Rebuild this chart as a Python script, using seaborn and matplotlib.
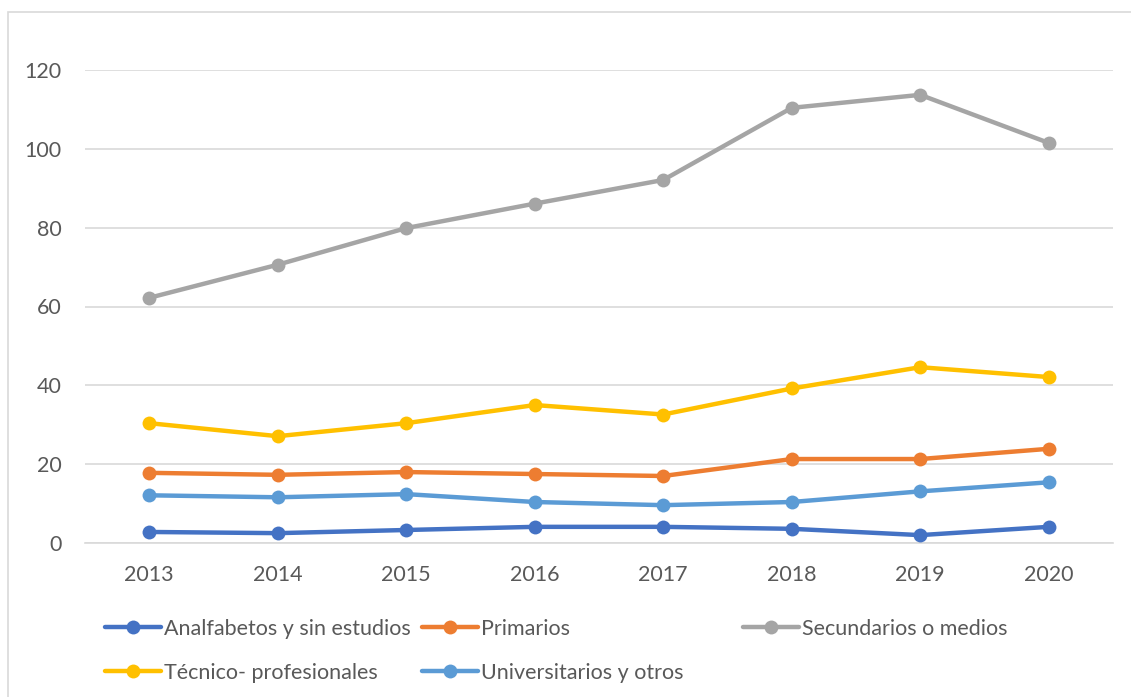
import matplotlib
matplotlib.use("Agg")
import matplotlib.pyplot as plt
from matplotlib.patches import Rectangle
from matplotlib.lines import Line2D
import seaborn as sns
import pandas as pd

years = [2013, 2014, 2015, 2016, 2017, 2018, 2019, 2020]
analfabetos = [2.8, 2.5, 3.3, 4.1, 4.1, 3.6, 2.0, 4.1]
primarios = [17.8, 17.3, 18.0, 17.5, 17.0, 21.3, 21.3, 23.9]
secundarios = [62.2, 70.6, 79.9, 86.1, 92.1, 110.4, 113.7, 101.5]
tecnico = [30.4, 27.1, 30.4, 35.0, 32.6, 39.2, 44.6, 42.1]
universitarios = [12.1, 11.6, 12.4, 10.4, 9.6, 10.4, 13.1, 15.4]

series_names = ["Analfabetos y sin estudios", "Primarios", "Secundarios o medios",
                "Técnico- profesionales", "Universitarios y otros"]
series_vals = [analfabetos, primarios, secundarios, tecnico, universitarios]
colors = ["#4472C4", "#ED7D31", "#A5A5A5", "#FFC000", "#5B9BD5"]
yticks = [0, 20, 40, 60, 80, 100, 120]

rows = []
for name, vals in zip(series_names, series_vals):
    for y, v in zip(years, vals):
        rows.append({"year": y, "value": v, "serie": name})
df = pd.DataFrame(rows)

sns.set_style("white")
plt.rcParams["font.family"] = ["Lato", "DejaVu Sans"]

W, H = 1131, 697
fig = plt.figure(figsize=(W / 100, H / 100), dpi=100)
fig.patch.set_facecolor("white")
# outer chart border
fig.patches.append(Rectangle((8 / W, -0.1), 1.2, (H - 12) / H + 0.1, transform=fig.transFigure,
                             fill=False, edgecolor="#D9D9D9", linewidth=1.2))

ax = fig.add_axes([85 / W, (H - 543) / H, (1113 - 85) / W, (543 - 70) / H])
palette = dict(zip(series_names, colors))
sns.lineplot(data=df, x="year", y="value", hue="serie", palette=palette, ax=ax,
             marker="o", markersize=10, markeredgewidth=0, linewidth=3.2,
             legend=False, clip_on=False, zorder=3)

ax.set_xlim(2012.5, 2020.5)
ax.set_ylim(0, 120)
ax.set_yticks(yticks)
ax.set_xticks(years)
ax.set_xticklabels([str(y) for y in years])
ax.grid(axis="y", color="#D9D9D9", linewidth=1.2)
ax.set_axisbelow(True)
for s in ["top", "right", "left"]:
    ax.spines[s].set_visible(False)
ax.spines["bottom"].set_color("#D9D9D9")
ax.spines["bottom"].set_linewidth(1.2)
ax.tick_params(axis="both", length=0, labelsize=15.5, colors="#595959")
ax.tick_params(axis="y", pad=17)
ax.tick_params(axis="x", pad=16)
ax.set_xlabel("")
ax.set_ylabel("")

# legend in three equal-width columns
cols = [[0, 3], [1, 4], [2]]
col_x = [105, 422, 743]
for cx, idxs in zip(col_x, cols):
    handles = [Line2D([], [], color=colors[i], linewidth=3.2, marker="o", markersize=10,
                      markeredgewidth=0) for i in idxs]
    labels = [series_names[i] for i in idxs]
    fig.legend(handles, labels, loc="upper left", bbox_to_anchor=(cx / W, 1 - 619 / H),
               frameon=False, fontsize=15.5, handlelength=2.6, handletextpad=0.15,
               labelspacing=1.1, borderpad=0, borderaxespad=0, labelcolor="#595959")

fig.savefig("out.png", dpi=100)
